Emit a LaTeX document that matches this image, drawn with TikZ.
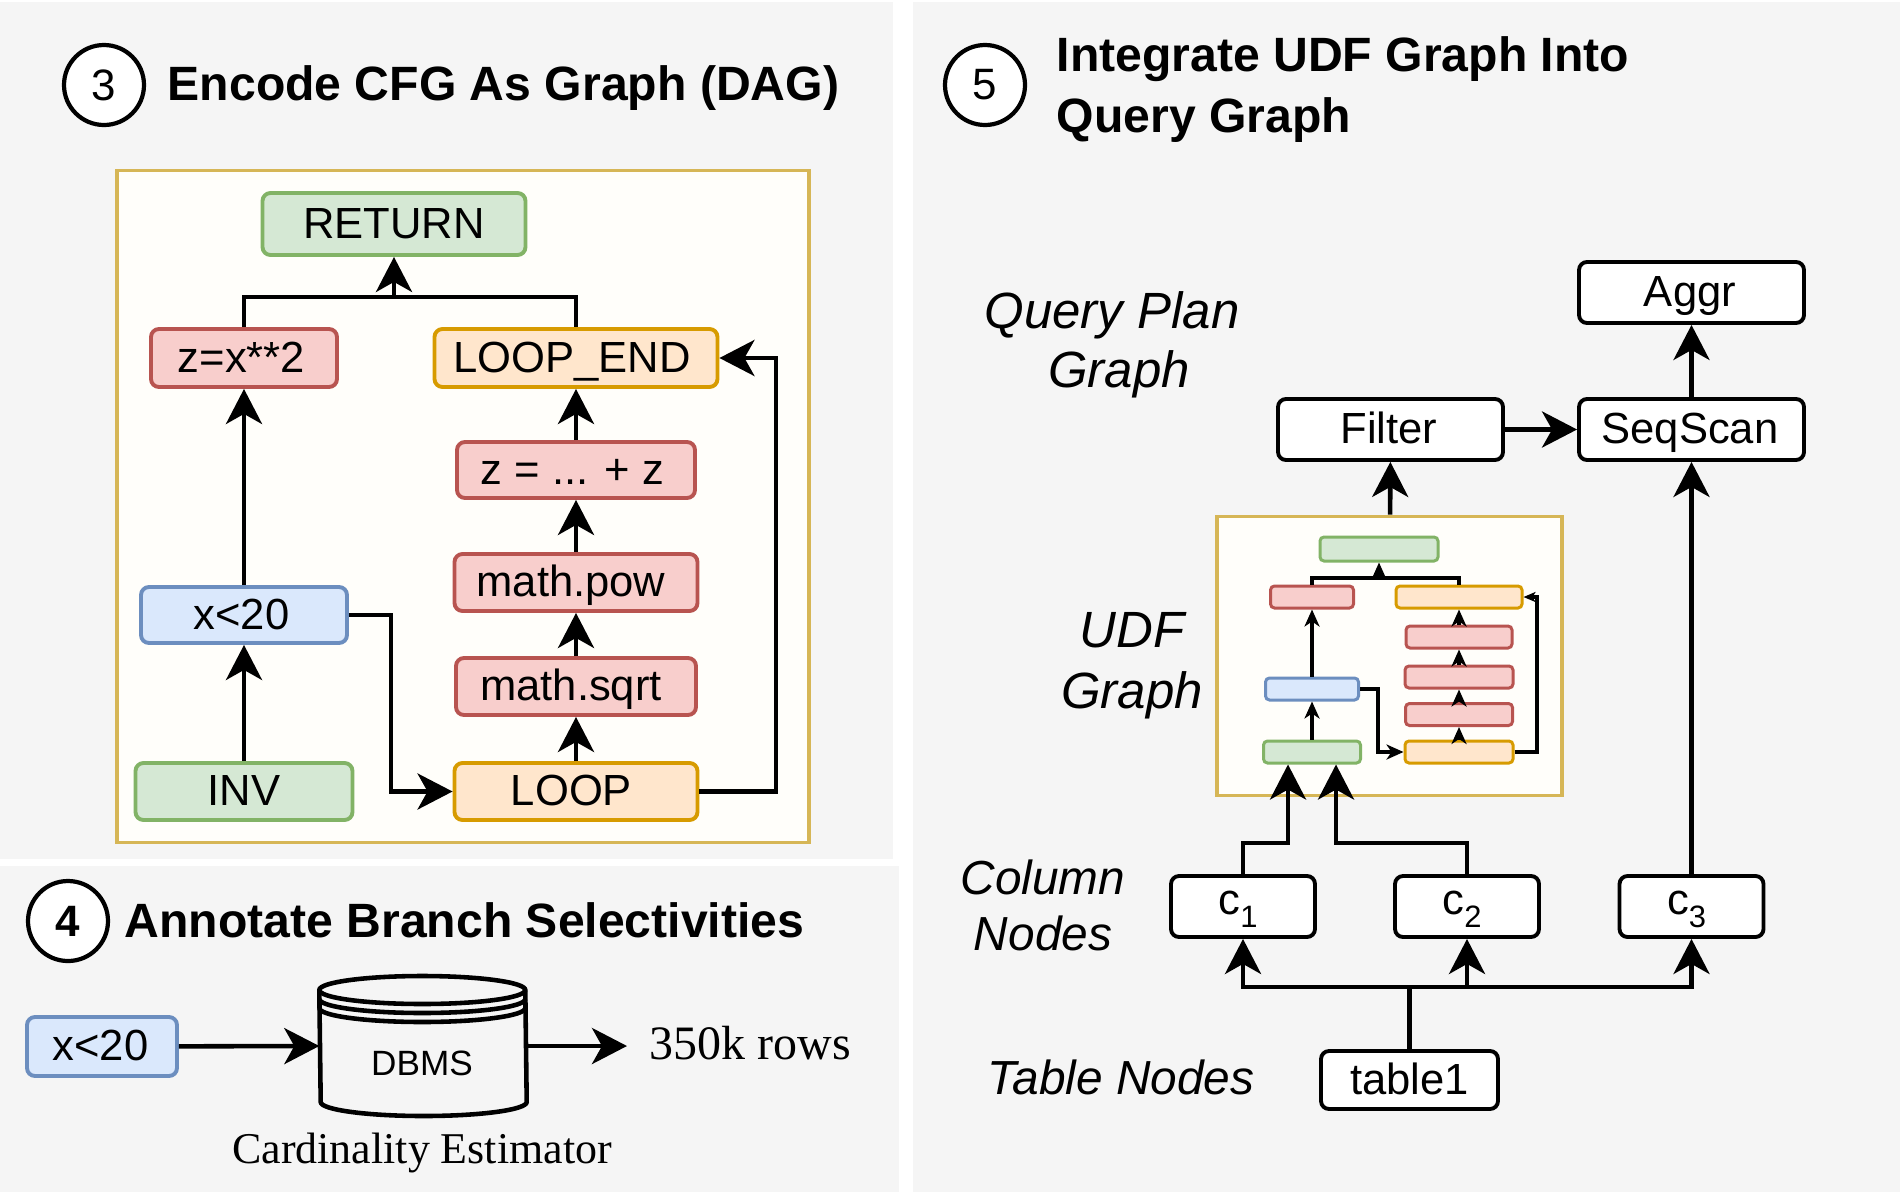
\documentclass[tikz,border=0pt]{standalone}
\usepackage{fontspec}
\setmainfont{Liberation Sans}
\newfontfamily\timesfont{Liberation Serif}
\usetikzlibrary{positioning}
\usetikzlibrary{arrows.meta}
\definecolor{panelgray}{HTML}{F5F5F5}
\definecolor{framefill}{HTML}{FFFEFA}
\definecolor{framedraw}{HTML}{D6B656}
\definecolor{greenfill}{HTML}{D5E8D4}
\definecolor{greendraw}{HTML}{82B366}
\definecolor{redfill}{HTML}{F8CECC}
\definecolor{reddraw}{HTML}{B85450}
\definecolor{orangefill}{HTML}{FFE6CC}
\definecolor{orangedraw}{HTML}{D79B00}
\definecolor{bluefill}{HTML}{DAE8FC}
\definecolor{bluedraw}{HTML}{6C8EBF}
\tikzset{>={Stealth[length=0.35cm,width=0.36cm,inset=0.1cm]}}
\newcommand{\subdigit}[1]{\raisebox{-3.7pt}{\fontsize{8.8}{10}\selectfont #1}}
\tikzset{
  box/.style={rectangle, rounded corners=0.08cm, line width=1.1pt, inner sep=0pt,
    text height=8.1pt, text depth=0pt, font=\fontsize{12.4}{14}\selectfont},
  greenbox/.style={box, draw=greendraw, fill=greenfill},
  redbox/.style={box, draw=reddraw, fill=redfill},
  orangebox/.style={box, draw=orangedraw, fill=orangefill},
  bluebox/.style={box, draw=bluedraw, fill=bluefill},
  plainbox/.style={box, draw=black, fill=white, minimum width=2.25cm, minimum height=0.61cm},
  colbox/.style={plainbox, minimum width=1.44cm, text height=4.8pt},
  % pushes the text of a box a little to the left
  leftset/.style={execute at end node=\hspace{#1}},
  % boxes of the small copy inside the UDF frame
  mini/.style={line width=0.85pt, rounded corners=0.04cm, text height=0pt},
  frame/.style={rectangle, draw=framedraw, fill=framefill, line width=1.1pt, inner sep=0pt},
  numcirc/.style={circle, draw=black, fill=white, line width=1.2pt, minimum size=0.80cm,
    inner sep=0pt, font=\fontsize{12.5}{14}\selectfont},
  heading/.style={anchor=base west, inner sep=0pt, font=\fontsize{13.7}{16}\selectfont\bfseries},
  sidelabel/.style={anchor=base, inner sep=0pt, font=\fontsize{14.5}{17}\selectfont\itshape},
  lowlabel/.style={sidelabel, font=\fontsize{13.6}{16}\selectfont\itshape},
  serif/.style={inner sep=0pt, font=\timesfont\fontsize{12.5}{15}\selectfont},
  link/.style={line width=1.3pt},
  minilink/.style={line width=1.05pt},
  minitip/.style={-{Stealth[length=0.17cm,width=0.15cm,inset=0.05cm]}},
  tinytip/.style={-{Stealth[length=0.12cm,width=0.10cm,inset=0.03cm]}}
}

\begin{document}
\begin{tikzpicture}
  \useasboundingbox (0,0) rectangle (19,-11.92);

  % Panels
  \fill[panelgray] (0,-0.02) rectangle (8.93,-8.59);
  \fill[panelgray] (0,-8.66) rectangle (8.99,-11.92);
  \fill[panelgray] (9.13,-0.02) rectangle (19,-11.92);

  % Panel 3: control flow graph
  \node[numcirc] (num3) at (1.04,-0.85) {3};
  \node[heading] (title3) at (1.67,-1.00) {Encode CFG As Graph (DAG)};
  \node[frame, minimum width=6.92cm, minimum height=6.72cm] (cfgframe) at (4.63,-5.065) {};

  \node[greenbox, minimum width=2.63cm, minimum height=0.62cm] (return) at (3.94,-2.24) {RETURN};
  \node[redbox, leftset=0.05cm, minimum width=1.86cm, minimum height=0.58cm] (zsquare) at (2.44,-3.58) {z=x**2};
  \node[orangebox, leftset=0.08cm, minimum width=2.83cm, minimum height=0.58cm] (loopend) at (5.76,-3.58) {LOOP\_END};
  \node[redbox, leftset=0.07cm, minimum width=2.38cm, minimum height=0.56cm] (zsum) at (5.76,-4.70) {z = ... + z};
  \node[redbox, leftset=0.10cm, minimum width=2.43cm, minimum height=0.57cm] (mathpow) at (5.76,-5.825) {math.pow};
  \node[redbox, leftset=0.10cm, minimum width=2.40cm, minimum height=0.57cm] (mathsqrt) at (5.76,-6.865) {math.sqrt};
  \node[orangebox, leftset=0.09cm, minimum width=2.43cm, minimum height=0.57cm] (loopstart) at (5.76,-7.915) {LOOP};
  \node[bluebox, leftset=0.05cm, minimum width=2.06cm, minimum height=0.56cm] (xcheck) at (2.44,-6.15) {x<20};
  \node[greenbox, minimum width=2.17cm, minimum height=0.57cm] (inv) at (2.44,-7.915) {INV};

  \coordinate (retjoin) at (3.94,-2.97);
  \coordinate (loopturn) at (7.76,-7.915);
  \coordinate (xturn) at (3.91,-6.15);

  \draw[link] (zsquare.north) |- (retjoin) -| (loopend.north);
  \draw[link, ->] (retjoin) -- (return.south);
  \draw[link, ->] (xcheck) -- (zsquare);
  \draw[link, ->] (inv) -- (xcheck);
  \draw[link, ->] (xcheck.east) -- (xturn) |- (loopstart.west);
  \draw[link, ->] (loopstart) -- (mathsqrt);
  \draw[link, ->] (mathsqrt) -- (mathpow);
  \draw[link, ->] (mathpow) -- (zsum);
  \draw[link, ->] (zsum) -- (loopend);
  \draw[link, ->] (loopstart.east) -- (loopturn) |- (loopend.east);

  % Panel 4: branch selectivity
  \node[numcirc, font=\fontsize{12.5}{14}\selectfont\bfseries] (num4) at (0.68,-9.21) {4};
  \node[heading] (title4) at (1.24,-9.37) {Annotate Branch Selectivities};

  \node[bluebox, leftset=0.03cm, minimum width=1.50cm, minimum height=0.59cm] (xinput) at (1.02,-10.465) {x<20};
  \node[inner sep=0pt, minimum width=2.06cm, minimum height=1.40cm] (dbms) at (4.23,-10.46) {};
  \draw[link] (dbms.west |- 0,-9.90) arc[start angle=180, end angle=0, x radius=1.03cm, y radius=0.14cm]
    -- (dbms.east |- 0,-11.02) arc[start angle=0, end angle=-180, x radius=1.03cm, y radius=0.14cm] -- cycle;
  \foreach \ylev in {-9.90,-9.99,-10.08}
    \draw[link] (dbms.west |- 0,\ylev) arc[start angle=180, end angle=360, x radius=1.03cm, y radius=0.14cm];
  \node[inner sep=0pt, font=\fontsize{10}{12}\selectfont] (dbmstext) at (4.22,-10.63) {DBMS};
  \node[serif, font=\timesfont\fontsize{13.65}{16}\selectfont, anchor=base west] (rows) at (6.49,-10.59) {350k rows};
  \node[serif, anchor=base] (estimator) at (4.22,-11.63) {Cardinality Estimator};
  \coordinate (rowstip) at (6.27,-10.46);

  \draw[link, ->] (xinput) -- (dbms.west);
  \draw[link, ->] (dbms.east) -- (rowstip);

  % Panel 5: query graph
  \node[numcirc] (num5) at (9.85,-0.85) {5};
  \node[heading] (title5a) at (10.56,-0.71) {Integrate UDF Graph Into};
  \node[heading] (title5b) at (10.56,-1.32) {Query Graph};

  \node[sidelabel] (planlabela) at (11.12,-3.28) {Query Plan};
  \node[sidelabel] (planlabelb) at (11.19,-3.87) {Graph};
  \node[sidelabel] (udflabela) at (11.32,-6.47) {UDF};
  \node[sidelabel] (udflabelb) at (11.32,-7.08) {Graph};
  \node[lowlabel] (collabela) at (10.43,-8.94) {Column};
  \node[lowlabel] (collabelb) at (10.43,-9.50) {Nodes};
  \node[lowlabel] (tablabel) at (11.21,-10.94) {Table Nodes};

  \node[plainbox, leftset=0.03cm] (aggr) at (16.915,-2.925) {Aggr};
  \node[plainbox, leftset=0.03cm] (seqscan) at (16.915,-4.295) {SeqScan};
  \node[plainbox, leftset=0.03cm] (filter) at (13.905,-4.295) {Filter};
  \node[colbox, leftset=0.10cm] (colone) at (12.43,-9.065) {c\subdigit{1}};
  \node[colbox, leftset=0.10cm] (coltwo) at (14.67,-9.065) {c\subdigit{2}};
  \node[colbox, leftset=0.10cm] (colthree) at (16.915,-9.065) {c\subdigit{3}};
  \node[plainbox, minimum width=1.77cm, minimum height=0.58cm] (tablenode) at (14.095,-10.80) {table1};
  \node[frame, minimum width=3.45cm, minimum height=2.79cm] (udfframe) at (13.895,-6.56) {};

  % Small copy of the graph
  \node[greenbox, mini, minimum width=1.18cm, minimum height=0.24cm] (miniret) at (13.79,-5.49) {};
  \node[redbox, mini, minimum width=0.83cm, minimum height=0.22cm] (minizsq) at (13.12,-5.97) {};
  \node[orangebox, mini, minimum width=1.26cm, minimum height=0.22cm] (miniend) at (14.59,-5.97) {};
  \node[redbox, mini, minimum width=1.06cm, minimum height=0.22cm] (minizsum) at (14.59,-6.37) {};
  \node[redbox, mini, minimum width=1.08cm, minimum height=0.22cm] (minipow) at (14.59,-6.77) {};
  \node[redbox, mini, minimum width=1.07cm, minimum height=0.22cm] (minisqrt) at (14.59,-7.145) {};
  \node[orangebox, mini, minimum width=1.08cm, minimum height=0.22cm] (miniloop) at (14.59,-7.52) {};
  \node[bluebox, mini, minimum width=0.93cm, minimum height=0.22cm] (minix) at (13.12,-6.89) {};
  \node[greenbox, mini, minimum width=0.97cm, minimum height=0.22cm] (miniinv) at (13.12,-7.52) {};

  \coordinate (minijoin) at (13.79,-5.78);
  \coordinate (miniturn) at (15.37,-7.52);
  \coordinate (minixturn) at (13.78,-6.89);

  \draw[minilink] (minizsq.north) |- (minijoin) -| (miniend.north);
  \draw[minilink, minitip] (minijoin) -- (miniret.south);
  \draw[minilink, minitip] (minix) -- (minizsq);
  \draw[minilink, minitip] (miniinv) -- (minix);
  \draw[minilink, minitip] (minix.east) -- (minixturn) |- (miniloop.west);
  \draw[minilink, minitip] (miniloop) -- (minisqrt);
  \draw[minilink, minitip] (minisqrt) -- (minipow);
  \draw[minilink, minitip] (minipow) -- (minizsum);
  \draw[minilink, minitip] (minizsum) -- (miniend);
  \draw[minilink, tinytip] (miniloop.east) -- (miniturn) |- (miniend.east);

  % Query graph connectors
  \coordinate (tablejoin) at (14.095,-9.87);
  \coordinate (oneturn) at (12.88,-8.43);
  \coordinate (twoturn) at (13.36,-8.43);

  \draw[link] (tablenode.north) -- (tablejoin);
  \draw[link, ->] (tablejoin) -| (colone.south);
  \draw[link, ->] (tablejoin) -| (coltwo.south);
  \draw[link, ->] (tablejoin) -| (colthree.south);
  \draw[link, ->] (colone.north) |- (oneturn) -- (oneturn |- miniinv.south);
  \draw[link, ->] (coltwo.north) |- (twoturn) -- (twoturn |- miniinv.south);
  \draw[link, ->] (colthree) -- (seqscan);
  \draw[link, ->] (udfframe) -- (filter);
  \draw[link, ->] (filter) -- (seqscan);
  \draw[link, ->] (seqscan) -- (aggr);

\end{tikzpicture}
\end{document}
